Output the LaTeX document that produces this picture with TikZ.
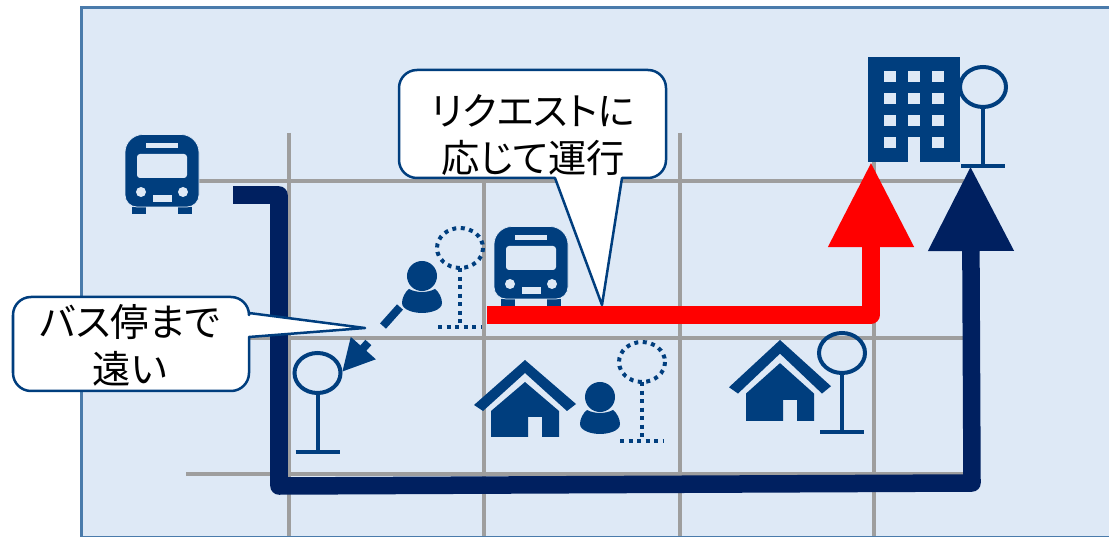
\documentclass[tikz,border=0pt]{standalone}
\usepackage{fontspec}
\usetikzlibrary{arrows.meta}
\newfontfamily\jpfont[RawFeature={+palt}]{Noto Sans CJK JP}
\definecolor{areabg}{HTML}{DEE9F6}
\definecolor{areaedge}{HTML}{4A7BAB}
\definecolor{roadgray}{HTML}{9E9E9E}
\definecolor{iconblue}{HTML}{003E7E}
\definecolor{navyroute}{HTML}{002060}
\tikzset{
    road/.style={roadgray, line width=.035cm},
    route/.style={line width=.175cm, line join=round},
    iconfill/.style={fill=iconblue, draw=none},
    holefill/.style={fill=areabg, draw=none},
    stopline/.style={iconblue, line width=.04cm},
    stopdots/.style={iconblue, line width=.04cm, dash pattern=on .04cm off .045cm},
    bubble/.style={fill=white, draw=iconblue, line width=.025cm, line join=round},
    bubbletext/.style={font=\jpfont\fontsize{10.9}{13.3}\selectfont, align=center, inner sep=0pt},
    pics/busicon/.style={code={
        \fill[iconfill] (-30,72) rectangle (-16,79);
        \fill[iconfill] (16,72) rectangle (30,79);
        \path[iconfill, draw=areabg, line width=.007cm] (-37,40) [rounded corners=.18cm] -- (-37,-.5) -- (37,-.5) -- (37,40)
            [rounded corners=.12cm] -- (37,72) -- (-37,72) -- cycle;
        \fill[holefill] (-16,8) rectangle (16,13);
        \fill[holefill, rounded corners=.03cm] (-25,19) rectangle (25,43);
        \fill[holefill] (-21,57) circle (.05cm);
        \fill[holefill] (21,57) circle (.05cm);
        \fill[holefill] (-9,60) rectangle (10,67);
    }},
    pics/personicon/.style={code={
        \fill[iconfill] (0,0) circle (.15cm);
        \fill[iconfill] (-13,13) .. controls (-5,17) and (5,17) .. (13,13)
            .. controls (17,16) and (20,22) .. (20,27)
            .. controls (20,34) and (8,37) .. (0,37)
            .. controls (-8,37) and (-20,34) .. (-20,27)
            .. controls (-20,22) and (-17,16) .. (-13,13) -- cycle;
    }},
    pics/houseicon/.style={code={
        \fill[iconfill] (-51,45) -- (0,0) -- (51,44) -- (42,51) -- (0,13) -- (-42,51) -- cycle;
        \fill[iconfill] (0,22) -- (34,51) -- (34,77) -- (17,77) -- (17,57) -- (3,57) -- (3,77)
            -- (-34,77) -- (-34,51) -- cycle;
    }},
    pics/stopicon/.style={code={
        \draw[#1] (0,0) circle [x radius=23, y radius=20];
        \draw[#1] (0,20) -- (0,79);
        \draw[#1] (-22,79) -- (22,79);
    }},
}

\begin{document}
\begin{tikzpicture}[x=.01cm, y=-.01cm]
    \useasboundingbox (0,0) rectangle (1109,537);
    \clip (0,0) rectangle (1109,537);

    % service area
    \draw[fill=areabg, draw=areaedge, line width=.03cm] (81,8) rectangle (1125,537.5);

    % roads
    \foreach \x in {289,484,680,874}
        \draw[road] (\x,133) -- (\x,536);
    \foreach \y in {181,338,474}
        \draw[road] (186,\y) -- (964,\y);

    % fixed route
    \coordinate (fixa) at (233,195);
    \coordinate (fixb) at (279,195);
    \coordinate (fixc) at (279,486);
    \coordinate (fixd) at (972,483);
    \coordinate (fixe) at (970.5,166);
    \draw[route, navyroute, -{Triangle[width=.81cm,length=.85cm]}]
        (fixa) -- (fixb) -- (fixc) -- (fixd) -- (fixe);

    % demand route
    \coordinate (reqa) at (487,315);
    \coordinate (reqb) at (871,315);
    \coordinate (reqc) at (871,162);
    \draw[route, red, -{Triangle[width=.81cm,length=.85cm]}] (reqa) -- (reqb) -- (reqc);

    % walk to the stop
    \coordinate (walka) at (400,307);
    \coordinate (walkb) at (342,372);
    \draw[iconblue, line width=.08cm, dash pattern=on .255cm off .22cm,
        -{Triangle[width=.31cm,length=.32cm]}] (walka) -- (walkb);

    % icons
    \pic at (162,135) {busicon};
    \pic at (531,227) {busicon};
    \pic at (422,276) {personicon};
    \pic at (600,397) {personicon};
    \pic at (525,360) {houseicon};
    \pic[yscale=1.05] at (780,340) {houseicon};
    \pic at (317.5,373) {stopicon=stopline};
    \pic at (983,87) {stopicon=stopline};
    \pic at (842,353) {stopicon=stopline};
    \pic at (460,248) {stopicon=stopdots};
    \pic at (642,362) {stopicon=stopdots};

    % building
    \fill[iconfill] (868,57) rectangle (960,162);
    \foreach \x in {884,908,932}
        \foreach \y in {71,93,115,137}
            \fill[holefill] (\x,\y) rectangle +(12,11);
    \fill[holefill] (908,137) rectangle (920,162);

    % callouts
    \draw[bubble] (555,178) [rounded corners=.18cm] -- (399,178) -- (399,70) -- (666,70) -- (666,178)
        [sharp corners] -- (622,178) -- (602,305) -- cycle;
    \node[bubbletext] (reqnote) at (533,135) {リクエストに\\応じて運行};

    \draw[bubble] (249,337) [rounded corners=.18cm] -- (249,391) -- (13,391) -- (13,297) -- (249,297)
        [sharp corners] -- (249,313) -- (365,328) -- cycle;
    \node[bubbletext] (farnote) at (130,345) {バス停まで\\遠い};
\end{tikzpicture}
\end{document}
